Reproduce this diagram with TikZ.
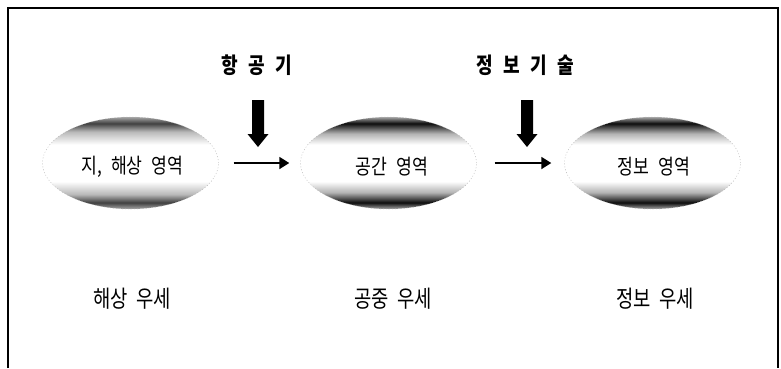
\documentclass[tikz,border=0pt]{standalone}
\usepackage{fontspec}
\newfontfamily\krin[FakeStretch=0.82]{Noto Sans CJK KR}
\newfontfamily\krbot[FakeStretch=0.8, WordSpace=2]{Noto Sans CJK KR}
\newfontfamily\krtop[FakeStretch=0.82]{Noto Sans CJK KR}
\usetikzlibrary{arrows.meta,shapes.geometric}
\pgfdeclareverticalshading{lensA}{100bp}{color(0bp)=(gray!70); color(25bp)=(gray!70); color(28.5bp)=(black!75); color(33bp)=(gray!55); color(40bp)=(white); color(60bp)=(white); color(67bp)=(gray!55); color(71.5bp)=(black!75); color(75bp)=(gray!70); color(100bp)=(gray!70)}
\pgfdeclareverticalshading{lensB}{100bp}{color(0bp)=(gray!70); color(25bp)=(gray!70); color(28.5bp)=(black!95); color(34bp)=(gray!60); color(40bp)=(white); color(60bp)=(white); color(66bp)=(gray!60); color(71.5bp)=(black!95); color(75bp)=(gray!70); color(100bp)=(gray!70)}
\tikzset{
  lens/.style={ellipse, minimum width=176pt, minimum height=92pt, inner sep=0pt,
    draw=gray!60, line width=0.4pt, dash pattern=on 1pt off 2pt},
  intext/.style={font=\krin\fontsize{21}{24}\selectfont, inner sep=0pt},
  bottomtext/.style={font=\krbot\fontsize{23.5}{26}\selectfont, inner sep=0pt},
  toptext/.style={font=\krtop\bfseries\fontsize{22}{25}\selectfont, inner sep=0pt},
  thinarrow/.style={line width=1.8pt, -{Triangle[length=10pt,width=12pt]}},
  bigarrow/.style={fill=black},
  frame/.style={line width=1.4pt}
}
\newcommand{\gapp}{\hspace{10.5pt}}
\newcommand{\wsp}{\hspace{9pt}}
\begin{document}
\begin{tikzpicture}[x=1pt,y=1pt]
\useasboundingbox (0,0) rectangle (781,-368);
% frame
\coordinate (fbl) at (8,-368);
\coordinate (ftl) at (8,-8);
\coordinate (ftr) at (778,-8);
\coordinate (fbr) at (778,-368);
\draw[frame] (fbl) -- (ftl) -- (ftr) -- (fbr);
% ellipses
\node[lens, shading=lensA] (e1) at (130.5,-163) {};
\node[lens, shading=lensB] (e2) at (388.5,-163) {};
\node[lens, shading=lensB] (e3) at (652.5,-163) {};
\node[intext] (t1) at (132.5,-167) {지,\wsp 해상\wsp 영역};
\node[intext] (t2) at (392,-167) {공간\wsp 영역};
\node[intext] (t3) at (654,-167) {정보\wsp 영역};
% horizontal arrows
\draw[thinarrow] ([xshift=15pt]e1.east) -- ([xshift=-11pt]e2.west);
\draw[thinarrow] ([xshift=18pt]e2.east) -- ([xshift=-13pt]e3.west);
% top labels
\node[toptext] (l1) at (257,-65) {항\gapp 공\gapp 기};
\node[toptext] (l2) at (525,-65) {정\gapp 보\gapp 기\gapp 술};
% big down arrows
\fill[bigarrow] (252,-100) -- (264,-100) -- (264,-134) -- (268.5,-134) -- (258,-147) -- (247.5,-134) -- (252,-134) -- cycle;
\fill[bigarrow] (521,-100) -- (533,-100) -- (533,-134) -- (537.5,-134) -- (527,-147) -- (516.5,-134) -- (521,-134) -- cycle;
% bottom labels
\node[bottomtext] (b1) at (132,-299) {해상 우세};
\node[bottomtext] (b2) at (393,-299) {공중 우세};
\node[bottomtext] (b3) at (655,-299) {정보 우세};
\end{tikzpicture}
\end{document}
